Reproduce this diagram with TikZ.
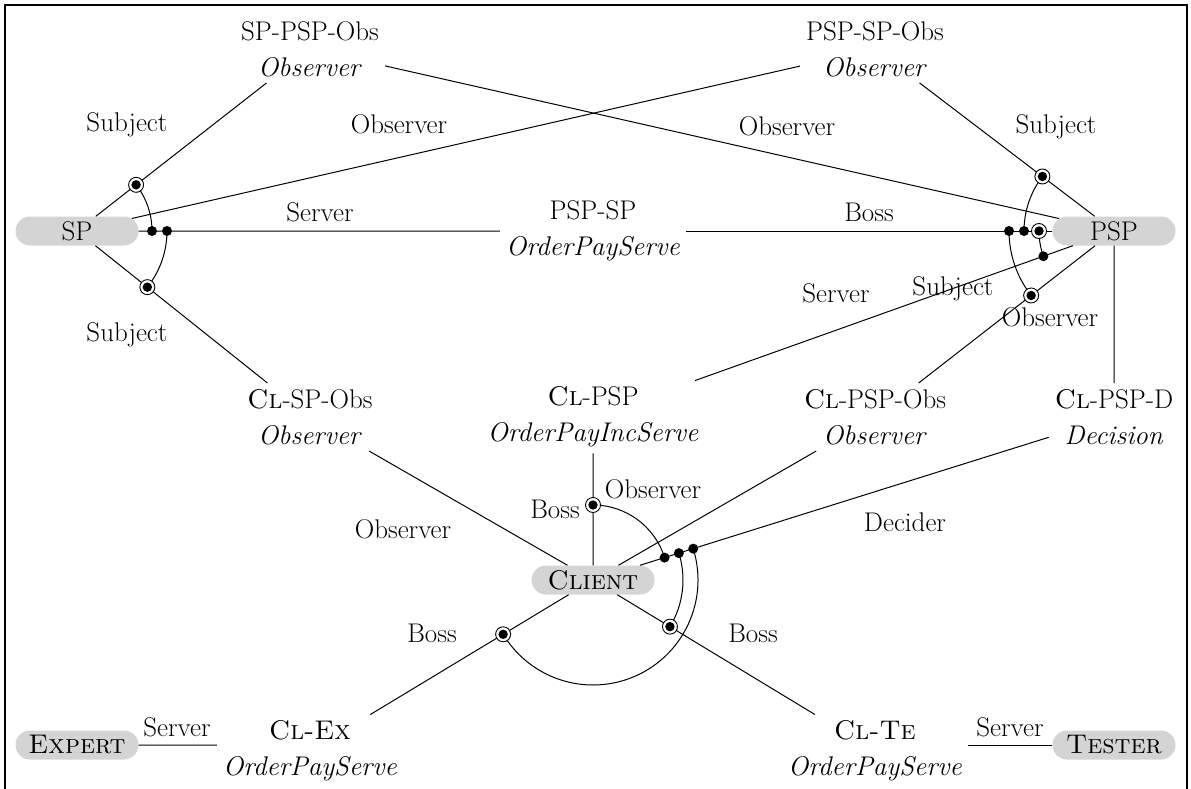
\documentclass[tikz,border=0pt]{standalone}
\usetikzlibrary{calc,shapes.misc}
\begin{document}
\begin{tikzpicture}[x=1pt,y=-1pt,
  every node/.style={font=\fontsize{27}{36}\selectfont},
  pill/.style={rounded rectangle, fill=black!17, minimum width=123pt, minimum height=29pt, inner sep=0pt},
  rel/.style={align=center, inner sep=6pt},
  role/.style={inner sep=0pt},
  conn/.style={line width=1pt},
  dotm/.style={circle, fill=black, minimum size=10pt, inner sep=0pt},
  ringm/.style={circle, draw, fill=white, line width=0.9pt, minimum size=15pt, inner sep=0pt,
    path picture={\fill[black] (path picture bounding box.center) circle (4.7pt);}},
]
\path[use as bounding box] (0,0) rectangle (1191,789);
\draw[line width=1.6pt] (5,789) -- (5,5) -- (1187,5) -- (1187,789);

% actors
\node[pill] (sp) at (77,231) {SP};
\node[pill] (psp) at (1114,231) {PSP};
\node[pill] (client) at (593,580) {\textsc{Client}};
\node[pill] (expert) at (77,745) {\textsc{Expert}};
\node[pill] (tester) at (1114,745) {\textsc{Tester}};

% relationships
\node[rel] (spo) at (310,49) {SP-PSP-Obs\\\textit{Observer}};
\node[rel] (psso) at (875,49) {PSP-SP-Obs\\\textit{Observer}};
\node[rel] (pspsp) at (593,231) {PSP-SP\\\textit{OrderPayServe}};
\node[rel] (clspo) at (310,417) {\textsc{Cl}-SP-Obs\\\textit{Observer}};
\node[rel] (clpsp) at (593,417) {\textsc{Cl}-PSP\\\textit{OrderPayIncServe}};
\node[rel] (clpspo) at (875,417) {\textsc{Cl}-PSP-Obs\\\textit{Observer}};
\node[rel] (clpspd) at (1114,417) {\textsc{Cl}-PSP-D\\\textit{Decision}};
\node[rel] (clex) at (310,751) {\textsc{Cl-Ex}\\\textit{OrderPayServe}};
\node[rel] (clte) at (875,751) {\textsc{Cl-Te}\\\textit{OrderPayServe}};

% connectors
\draw[conn] (sp) -- (spo);
\draw[conn] (sp) -- (psso);
\draw[conn] (sp) -- (pspsp);
\draw[conn] (sp) -- (clspo);
\draw[conn] (psp) -- (spo);
\draw[conn] (psp) -- (psso);
\draw[conn] (psp) -- (pspsp);
\draw[conn] (psp) -- (clpsp);
\draw[conn] (psp) -- (clpspo);
\draw[conn] (psp) -- (clpspd);
\draw[conn] (client) -- (clspo);
\draw[conn] (client) -- (clpsp);
\draw[conn] (client) -- (clpspo);
\draw[conn] (client) -- (clpspd);
\draw[conn] (client) -- (clex);
\draw[conn] (client) -- (clte);
\draw[conn] (expert) -- (expert -| clex.west);
\draw[conn] (tester) -- (tester -| clte.east);

% role labels
\node[role] (r1) at (127,125) {Subject};
\node[role] (r2) at (399,124) {Observer};
\node[role] (r3) at (787,126) {Observer};
\node[role] (r4) at (1056,127) {Subject};
\node[role] (r5) at (320,212) {Server};
\node[role] (r6) at (869,212) {Boss};
\node[role] (r7) at (127,335) {Subject};
\node[role] (r8) at (836,293) {Server};
\node[role] (r9) at (953,289) {Subject};
\node[role] (r10) at (1050,317) {Observer};
\node[role] (r11) at (403,529) {Observer};
\node[role] (r12) at (555,509) {Boss};
\node[role] (r13) at (653,489) {Observer};
\node[role] (r14) at (905,522) {Decider};
\node[role] (r15) at (432,633) {Boss};
\node[role] (r16) at (753,633) {Boss};
\node[role] (r17) at (177,727) {Server};
\node[role] (r18) at (1010,727) {Server};

% marker positions
\coordinate (s1) at ($(sp)!75pt!(spo)$);
\coordinate (s2) at ($(sp)!75pt!(pspsp)$);
\coordinate (s3) at ($(sp)!90pt!(pspsp)$);
\coordinate (s4) at ($(sp)!90pt!(clspo)$);
\coordinate (p1) at ($(psp)!90pt!(psso)$);
\coordinate (p2) at ($(psp)!75pt!(pspsp)$);
\coordinate (p3) at ($(psp)!90pt!(pspsp)$);
\coordinate (p4) at ($(psp)!105pt!(pspsp)$);
\coordinate (p5) at ($(psp)!75pt!(clpsp)$);
\coordinate (p6) at ($(psp)!105pt!(clpspo)$);
\coordinate (c1) at ($(client)!75pt!(clpsp)$);
\coordinate (c2) at ($(client)!75pt!(clpspd)$);
\coordinate (c3) at ($(client)!90pt!(clpspd)$);
\coordinate (c4) at ($(client)!105pt!(clpspd)$);
\coordinate (c5) at ($(client)!90pt!(clte)$);
\coordinate (c6) at ($(client)!105pt!(clex)$);

\def\constrarc#1#2#3#4#5{%
  \draw[conn] let \p1=($(#2)-(#1)$), \p2=($(#3)-(#1)$),
    \n1={atan2(\y1,\x1)}, \n2={atan2(\y2,\x2)+#5} in
    (#2) arc[start angle=\n1, end angle=\n2, radius=#4];}

\constrarc{sp}{s1}{s2}{75pt}{0}
\constrarc{sp}{s3}{s4}{90pt}{0}
\constrarc{psp}{p1}{p3}{90pt}{0}
\constrarc{psp}{p2}{p5}{75pt}{360}
\constrarc{psp}{p4}{p6}{105pt}{360}
\constrarc{client}{c1}{c2}{75pt}{0}
\constrarc{client}{c3}{c5}{90pt}{0}
\constrarc{client}{c4}{c6}{105pt}{0}

% markers
\node[ringm] (ms1) at (s1) {};
\node[dotm] (ms2) at (s2) {};
\node[dotm] (ms3) at (s3) {};
\node[ringm] (ms4) at (s4) {};
\node[ringm] (mp1) at (p1) {};
\node[ringm] (mp2) at (p2) {};
\node[dotm] (mp3) at (p3) {};
\node[dotm] (mp4) at (p4) {};
\node[dotm] (mp5) at (p5) {};
\node[ringm] (mp6) at (p6) {};
\node[ringm] (mc1) at (c1) {};
\node[dotm] (mc2) at (c2) {};
\node[dotm] (mc3) at (c3) {};
\node[dotm] (mc4) at (c4) {};
\node[ringm] (mc5) at (c5) {};
\node[ringm] (mc6) at (c6) {};
\end{tikzpicture}
\end{document}
